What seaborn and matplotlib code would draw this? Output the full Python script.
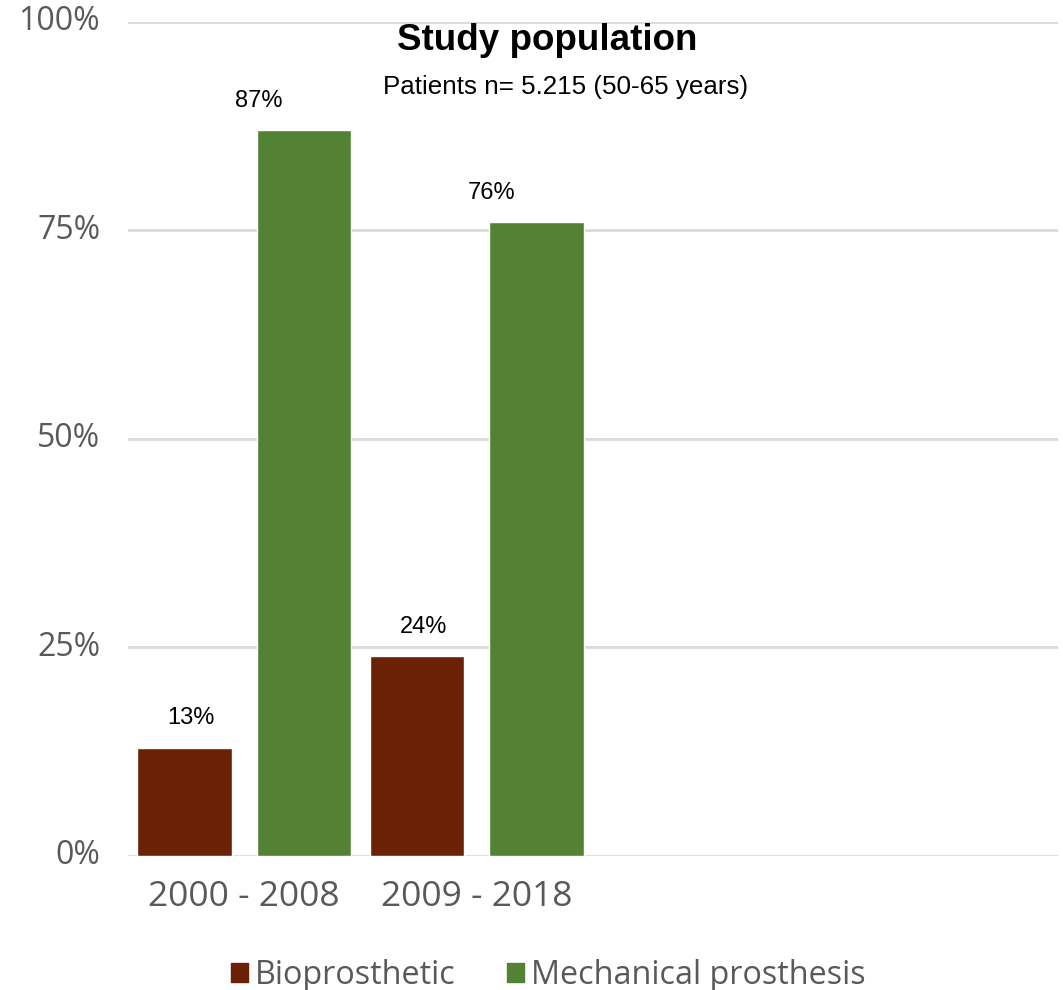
import matplotlib
matplotlib.use("Agg")
import matplotlib.pyplot as plt
import seaborn as sns
import pandas as pd

# Share of valve prosthesis types per implantation period
periods = ["2000 - 2008", "2009 - 2018"]
prosthesis_types = ["Bioprosthetic", "Mechanical prosthesis"]
bioprosthetic = [13, 24]
mechanical = [87, 76]
y_ticks = [0, 25, 50, 75, 100]

palette = {"Bioprosthetic": "#6B2106", "Mechanical prosthesis": "#548235"}

df = pd.DataFrame({
    "period": periods * 2,
    "type": [prosthesis_types[0]] * len(periods) + [prosthesis_types[1]] * len(periods),
    "value": bioprosthetic + mechanical,
})

sns.set_theme(style="white")
plt.rcParams["font.family"] = ["Open Sans", "DejaVu Sans"]

fig = plt.figure(figsize=(10.63, 9.9), dpi=100)
ax = fig.add_axes([0.1204, 0.1354, 0.8749, 0.8424])

sns.barplot(data=df, x="period", y="value", hue="type", order=periods,
            hue_order=prosthesis_types, palette=palette, width=1.03, gap=0.21,
            saturation=1, legend=False, ax=ax, zorder=3)

ax.set_xlim(-0.5, 3.5)
ax.set_ylim(0, 100)
ax.set_yticks(y_ticks)
ax.set_yticklabels([f"{t}%" for t in y_ticks])
ax.set_xlabel("")
ax.set_ylabel("")
ax.grid(axis="y", color="#D9D9D9", linewidth=2, zorder=0)
ax.grid(axis="x", visible=False)
for s in ax.spines.values():
    s.set_visible(False)
ax.tick_params(axis="y", labelsize=23, labelcolor="#595959", length=0, pad=20)
ax.tick_params(axis="x", labelsize=25.5, labelcolor="#595959", length=0, pad=17)
for lbl in ax.get_yticklabels():
    lbl.set_verticalalignment("center")

# Value labels above each bar (mechanical labels sit left of their bar)
label_dx = {"Bioprosthetic": 4.7, "Mechanical prosthesis": -32.4}
for container, ptype in zip(ax.containers, prosthesis_types):
    for patch, value in zip(container.patches, container.datavalues):
        ax.annotate(f"{value:.0f}%",
                    xy=(patch.get_x() + patch.get_width() / 2, patch.get_height()),
                    xytext=(label_dx[ptype], 21), textcoords="offset points",
                    ha="center", va="center", fontsize=17,
                    family="Liberation Sans", color="black")

fig.text(0.515, 0.959, "Study population", ha="center", va="center",
         fontsize=26.5, fontweight="bold", family="Liberation Sans", color="black")
fig.text(0.532, 0.912, "Patients n= 5.215 (50-65 years)", ha="center", va="center",
         fontsize=18.7, family="Liberation Sans", color="black")

handles = [plt.Rectangle((0, 0), 1, 1, color=palette[t]) for t in prosthesis_types]
leg = fig.legend(handles, prosthesis_types, loc="center", bbox_to_anchor=(0.516, 0.015),
                 ncol=2, frameon=False, fontsize=23.3, handlelength=0.52, handleheight=0.52,
                 handletextpad=0.22, columnspacing=1.6)
for t in leg.get_texts():
    t.set_color("#595959")

fig.savefig("out.png", dpi=100, facecolor="white")
